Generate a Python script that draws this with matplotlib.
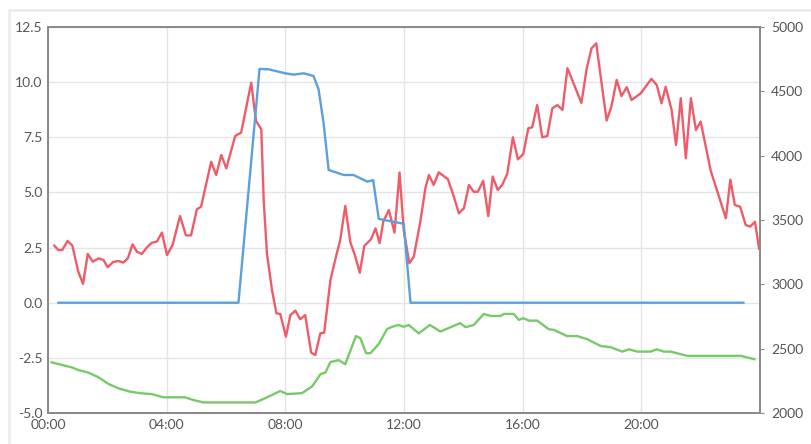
import matplotlib.pyplot as plt
from matplotlib.patches import Rectangle

plt.rcParams['font.family'] = ['Lato', 'DejaVu Sans']

# hours of day (x) and readings
red_hours = [0.21, 0.35, 0.48, 0.66, 0.82, 1.02, 1.18, 1.34, 1.51, 1.70,
             1.87, 2.01, 2.20, 2.37, 2.54, 2.69, 2.85, 3.00, 3.16, 3.33,
             3.50, 3.67, 3.84, 4.01, 4.20, 4.45, 4.65, 4.82, 5.02, 5.16,
             5.50, 5.67, 5.84, 6.01, 6.31, 6.51, 6.85, 7.01, 7.19, 7.27,
             7.38, 7.55, 7.70, 7.83, 8.02, 8.17, 8.34, 8.50, 8.67, 8.87,
             9.01, 9.18, 9.31, 9.52, 9.72, 9.85, 10.02, 10.19, 10.36, 10.51,
             10.66, 10.81, 10.89, 11.04, 11.18, 11.30, 11.49, 11.68, 11.85, 11.99,
             12.18, 12.33, 12.55, 12.72, 12.84, 13.00, 13.17, 13.48, 13.68, 13.85,
             14.02, 14.19, 14.35, 14.49, 14.67, 14.84, 14.99, 15.16, 15.31, 15.48,
             15.67, 15.84, 16.02, 16.19, 16.32, 16.49, 16.66, 16.83, 17.00, 17.17,
             17.34, 17.51, 17.98, 18.16, 18.32, 18.48, 18.83, 18.99, 19.17, 19.33,
             19.51, 19.67, 19.98, 20.34, 20.52, 20.68, 20.82, 21.02, 21.17, 21.33,
             21.50, 21.67, 21.84, 22.00, 22.34, 22.85, 23.00, 23.15, 23.33, 23.52,
             23.67, 23.83, 23.97]
red_vals = [2.59, 2.39, 2.39, 2.80, 2.59, 1.41, 0.85, 2.21, 1.86, 2.01,
            1.94, 1.61, 1.85, 1.89, 1.82, 2.01, 2.65, 2.31, 2.21, 2.50,
            2.72, 2.77, 3.18, 2.16, 2.62, 3.93, 3.05, 3.05, 4.24, 4.35,
            6.39, 5.79, 6.70, 6.09, 7.56, 7.71, 9.97, 8.25, 7.86, 4.66,
            2.24, 0.58, -0.48, -0.51, -1.54, -0.56, -0.36, -0.75, -0.56, -2.26,
            -2.37, -1.39, -1.36, 1.03, 2.16, 2.84, 4.39, 2.75, 2.09, 1.36,
            2.57, 2.77, 2.88, 3.37, 2.70, 3.67, 4.20, 3.18, 5.90, 3.30,
            1.79, 2.09, 3.67, 5.19, 5.79, 5.34, 5.91, 5.60, 4.81, 4.05,
            4.28, 5.34, 5.03, 5.03, 5.53, 3.93, 5.72, 5.11, 5.34, 5.84,
            7.50, 6.50, 6.74, 7.91, 7.95, 8.96, 7.50, 7.56, 8.81, 8.96,
            8.74, 10.63, 9.06, 10.63, 11.53, 11.76, 8.26, 8.89, 10.10, 9.37,
            9.77, 9.19, 9.49, 10.15, 9.87, 9.04, 9.79, 8.74, 7.15, 9.27,
            6.55, 9.27, 7.83, 8.21, 5.98, 3.83, 5.58, 4.43, 4.35, 3.52,
            3.45, 3.67, 2.45]

blue_hours = [0.35, 6.42, 7.13, 7.44, 8.00, 8.28, 8.62, 8.95, 9.12, 9.29,
              9.46, 9.97, 10.30, 10.76, 10.96, 11.15, 11.99, 12.22, 23.44]
blue_vals = [0, 0, 10.6, 10.58, 10.4, 10.34, 10.4, 10.28, 9.68, 8.13,
             6.02, 5.79, 5.79, 5.49, 5.56, 3.80, 3.58, 0, 0]

green_hours = [0.12, 0.46, 0.80, 1.02, 1.36, 1.70, 2.04, 2.37, 2.77, 3.10,
               3.50, 3.89, 4.62, 4.90, 5.24, 6.99, 7.32, 7.83, 8.06, 8.56,
               8.90, 9.19, 9.35, 9.52, 9.80, 10.02, 10.38, 10.53, 10.72, 10.87,
               11.15, 11.43, 11.60, 11.82, 11.99, 12.16, 12.50, 12.87, 13.23, 13.57,
               13.89, 14.08, 14.35, 14.69, 14.92, 15.25, 15.37, 15.70, 15.87, 16.02,
               16.21, 16.49, 16.88, 17.05, 17.50, 17.84, 18.18, 18.63, 18.97, 19.36,
               19.58, 19.87, 20.31, 20.52, 20.76, 20.99, 21.55, 23.36, 23.81]
green_vals = [2394, 2374, 2355, 2334, 2314, 2278, 2226, 2192, 2166, 2154,
              2147, 2122, 2122, 2101, 2082, 2082, 2115, 2171, 2147, 2154,
              2206, 2303, 2314, 2396, 2411, 2379, 2598, 2581, 2465, 2465,
              2537, 2653, 2670, 2684, 2670, 2684, 2619, 2684, 2633, 2667,
              2698, 2667, 2684, 2770, 2754, 2754, 2770, 2770, 2723, 2737,
              2718, 2718, 2651, 2646, 2598, 2598, 2573, 2521, 2511, 2477,
              2495, 2477, 2477, 2495, 2477, 2477, 2444, 2444, 2418]

x_ticks = [0, 4, 8, 12, 16, 20]
x_labels = ["00:00", "04:00", "08:00", "12:00", "16:00", "20:00"]
left_ticks = [-5.0, -2.5, 0.0, 2.5, 5.0, 7.5, 10.0, 12.5]
right_ticks = [2000, 2500, 3000, 3500, 4000, 4500, 5000]

text_col = "#555555"
frame_col = "#8a8a8a"

fig = plt.figure(figsize=(8.11, 4.44), dpi=100)
# light card border
fig.patches.append(Rectangle((9 / 811, -0.1), 1.0, (434 / 444) + 0.1,
                             transform=fig.transFigure, fill=False,
                             edgecolor="#ececec", linewidth=2))

ax = fig.add_axes([48 / 811, 31 / 444, 712 / 811, 386 / 444])
ax2 = ax.twinx()

ax.plot(red_hours, red_vals, color="#ef5b68", lw=1.7, zorder=2)
ax.plot(blue_hours, blue_vals, color="#5b9fdc", lw=1.7, zorder=3)
ax2.plot(green_hours, green_vals, color="#78c96a", lw=1.7)

ax.set_xlim(0, 24)
ax.set_ylim(-5, 12.5)
ax2.set_ylim(2000, 5000)
ax.set_xticks(x_ticks)
ax.set_xticklabels(x_labels)
ax.set_yticks(left_ticks)
ax.set_yticklabels([f"{v:.1f}" for v in left_ticks])
ax2.set_yticks(right_ticks)

ax.grid(visible=True, color="#e4e4e4", lw=1)
ax.set_axisbelow(True)

ax.tick_params(axis="both", length=0, labelsize=10, labelcolor=text_col, pad=4)
ax2.tick_params(axis="y", length=3, color=frame_col, labelsize=10,
                labelcolor=text_col, pad=5)
for a in (ax, ax2):
    for s in a.spines.values():
        s.set_color(frame_col)
        s.set_linewidth(1.3)

fig.savefig("out.png", dpi=100)
